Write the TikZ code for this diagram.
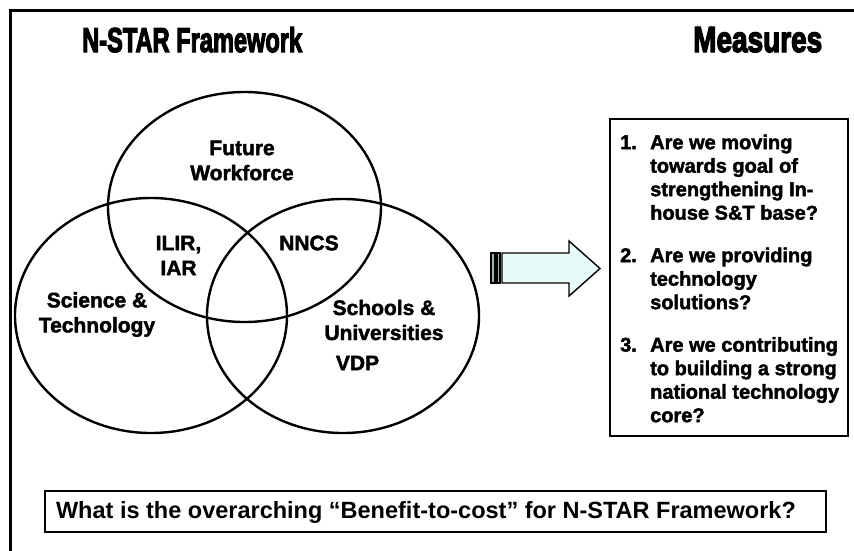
\documentclass[tikz,border=0pt]{standalone}
\usepackage{fontspec}
\setmainfont{Liberation Sans}
\newfontfamily\heavyfont[FakeBold=2]{Liberation Sans}
\newfontfamily\titlefont[FakeBold=4]{Liberation Sans}
\usetikzlibrary{shapes.geometric}
\definecolor{arrowfill}{HTML}{E8FBFB}
\definecolor{stripefill}{HTML}{9DB3B3}
\begin{document}
\begin{tikzpicture}[x=1pt,y=-1pt,
  venn/.style={ellipse, draw, line width=2.4pt, inner sep=0pt},
  lbl/.style={font=\heavyfont\bfseries\fontsize{21}{25}\selectfont, align=center, inner sep=0pt},
  ttl/.style={anchor=base west, inner sep=0pt},
  frameline/.style={line width=3pt},
  arrowbody/.style={draw, line width=1.4pt, fill=arrowfill, line join=miter},
  stripe/.style={draw, line width=1.2pt, fill=stripefill}]
\useasboundingbox (0,0) rectangle (854,550);
\fill[white] (0,0) rectangle (854,550);
% frame
\draw[frameline] (858,10) -- (10,10) -- (10,556);
% titles
\node[ttl] (t1) at (82,52) {\resizebox{220pt}{25pt}{\titlefont\bfseries N-STAR Framework}};
\node[ttl] (t2) at (693,52) {\resizebox{129pt}{25pt}{\titlefont\bfseries Measures}};
% venn circles
\node[venn, minimum width=273pt, minimum height=230pt] (fw) at (244.5,207) {};
\node[venn, minimum width=272pt, minimum height=235pt] (st) at (151,315.5) {};
\node[venn, minimum width=272pt, minimum height=234pt] (su) at (343,316) {};
% labels
\node[lbl] (lfw) at (242,160.5) {Future\\Workforce};
\node[lbl] (lilir) at (178.5,255.5) {ILIR,\\IAR};
\node[lbl] (lnncs) at (309,243) {NNCS};
\node[lbl] (lst) at (97,314.5) {Science \&\\Technology};
\node[lbl] (lsu) at (384,320) {Schools \&\\Universities};
\node[lbl] (lvdp) at (357.5,363) {VDP};
% striped arrow
\filldraw[stripe] (491,253) rectangle (495,283);
\filldraw[stripe] (497,253) rectangle (500,283);
\filldraw[arrowbody] (502,253) -- (569,253) -- (569,241) -- (600,268.5) -- (569,296) -- (569,283) -- (502,283) -- cycle;
% measures box
\node[draw, line width=2.4pt, minimum width=238pt, minimum height=317pt, inner sep=0pt] (mbox) at (729,277.5) {};
\node[anchor=north west, inner sep=0pt, font=\heavyfont\bfseries\fontsize{20}{23.5}\selectfont] (mtext) at (620,132.5) {%
\begin{tabular}{@{}p{30pt}@{}l@{}}
1. & Are we moving\\
   & towards goal of\\
   & strengthening In-\\
   & house S\&T base?\\[19pt]
2. & Are we providing\\
   & technology\\
   & solutions?\\[19pt]
3. & Are we contributing\\
   & to building a strong\\
   & national technology\\
   & core?
\end{tabular}};
% question box
\node[draw, line width=2.4pt, minimum width=781pt, minimum height=41pt, inner sep=0pt] (qbox) at (435.5,511.5) {};
\node[inner sep=0pt, font=\bfseries\fontsize{23.5}{28}\selectfont] (qtext) at (426,512) {What is the overarching “Benefit-to-cost” for N-STAR Framework?};
\end{tikzpicture}
\end{document}
